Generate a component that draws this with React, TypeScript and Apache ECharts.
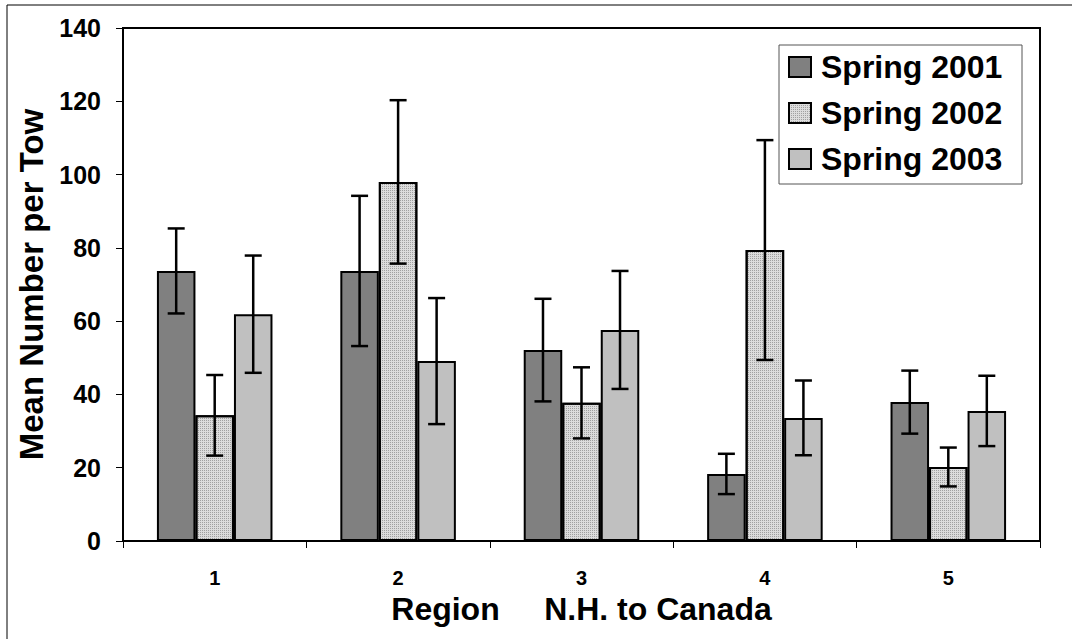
import React, { useEffect, useRef } from "react";
import * as echarts from "echarts";

const categories = ["1", "2", "3", "4", "5"];
const seriesNames = ["Spring 2001", "Spring 2002", "Spring 2003"];
const s2001 = [73.7, 73.7, 52.1, 18.3, 37.9];
const s2002 = [34.3, 98.0, 37.7, 79.4, 20.2];
const s2003 = [61.9, 49.1, 57.6, 33.6, 35.5];
const err2001 = [11.6, 20.5, 14.0, 5.5, 8.6];
const err2002 = [11.0, 22.3, 9.7, 30.0, 5.3];
const err2003 = [16.0, 17.2, 16.1, 10.2, 9.6];
const yTicks = [0, 20, 40, 60, 80, 100, 120, 140];

const colors = ["#808080", "#dcdcdc", "#c0c0c0"];
const CAT_GAP = 0.37;
const FONT = "'Liberation Sans', Arial, sans-serif";

export default function App() {
  const ref = useRef<HTMLDivElement>(null);
  useEffect(() => {
    if (!ref.current) return;
    const chart = echarts.init(ref.current, undefined, { renderer: "svg" });
    const values = [s2001, s2002, s2003];
    const errs = [err2001, err2002, err2003];

    const dotted = {
      symbol: "rect",
      symbolSize: 1,
      color: "rgba(110,110,110,0.55)",
      dashArrayX: [1, 1],
      dashArrayY: [1, 1],
      rotation: 0,
    };

    const barSeries = values.map((vals, si) => ({
      name: seriesNames[si],
      type: "bar",
      data: vals,
      barGap: "0%",
      barCategoryGap: CAT_GAP * 100 + "%",
      itemStyle: {
        color: colors[si],
        borderColor: "#000",
        borderWidth: 2,
        ...(si === 1 ? { decal: dotted } : {}),
      },
      z: 2,
    }));

    const errSeries = values.map((vals, si) => ({
      name: seriesNames[si] + " error",
      type: "custom",
      z: 5,
      silent: true,
      encode: { x: 0, y: [1, 2] },
      data: vals.map((v, i) => [i, v - errs[si][i], v + errs[si][i]]),
      renderItem: (params: any, api: any) => {
        const xi = api.value(0);
        const lowP = api.coord([xi, api.value(1)]);
        const highP = api.coord([xi, api.value(2)]);
        const band = api.size([1, 0])[0];
        const bw = (band * (1 - CAT_GAP)) / 3;
        const x = lowP[0] + (si - 1) * bw;
        const cap = 8.5;
        const st = { stroke: "#000", lineWidth: 2.5 };
        return {
          type: "group",
          children: [
            { type: "line", shape: { x1: x, y1: highP[1], x2: x, y2: lowP[1] }, style: st },
            { type: "line", shape: { x1: x - cap, y1: highP[1], x2: x + cap, y2: highP[1] }, style: st },
            { type: "line", shape: { x1: x - cap, y1: lowP[1], x2: x + cap, y2: lowP[1] }, style: st },
          ],
        };
      },
    }));

    chart.setOption({
      animation: false,
      backgroundColor: "#fff",
      textStyle: { fontFamily: FONT },
      grid: {
        left: 123,
        top: 28,
        right: 32,
        bottom: 98,
        show: true,
        borderColor: "#000",
        borderWidth: 2,
      },
      legend: {
        data: seriesNames,
        orient: "vertical",
        left: 788,
        top: 51,
        padding: 0,
        itemGap: 14,
        itemWidth: 22,
        itemHeight: 20,
        icon: "rect",
        selectedMode: false,
        textStyle: {
          fontFamily: FONT,
          fontWeight: "bold",
          fontSize: 32,
          lineHeight: 32,
          color: "#000",
          padding: [0, 0, 0, 5],
        },
      },
      xAxis: {
        type: "category",
        data: categories,
        name: "Region\u00a0\u00a0\u00a0\u00a0\u00a0N.H. to Canada",
        nameLocation: "middle",
        nameGap: 47,
        nameTextStyle: { fontFamily: FONT, fontWeight: "bold", fontSize: 32, color: "#000" },
        axisLine: { show: true, lineStyle: { color: "#000", width: 2 } },
        axisTick: { show: true, alignWithLabel: false, length: 7, lineStyle: { color: "#000", width: 1 } },
        axisLabel: { fontFamily: FONT, fontWeight: "bold", fontSize: 20, color: "#000", margin: 27 },
        splitLine: { show: false },
      },
      yAxis: {
        type: "value",
        min: yTicks[0],
        max: yTicks[yTicks.length - 1],
        interval: yTicks[1] - yTicks[0],
        name: "Mean Number per Tow",
        nameLocation: "middle",
        nameGap: 72,
        nameTextStyle: { fontFamily: FONT, fontWeight: "bold", fontSize: 33, color: "#000" },
        axisLine: { show: true, lineStyle: { color: "#000", width: 2 } },
        axisTick: { show: true, length: 7, lineStyle: { color: "#000", width: 1 } },
        axisLabel: { fontFamily: FONT, fontWeight: "bold", fontSize: 25, color: "#000", margin: 22 },
        splitLine: { show: false },
      },
      graphic: [
        {
          type: "rect",
          shape: { x: 7, y: 5, width: 1200, height: 800 },
          style: { fill: "none", stroke: "#000", lineWidth: 1 },
          silent: true,
          z: 0,
        },
        {
          type: "rect",
          shape: { x: 779, y: 45, width: 243, height: 139 },
          style: { fill: "#fff", stroke: "#555", lineWidth: 1 },
          silent: true,
          z: 1,
        },
      ],
      series: [...barSeries, ...errSeries],
    });
    return () => chart.dispose();
  }, []);
  return (
    <div
      ref={ref}
      style={{ position: "fixed", left: 0, top: 0, width: 1072, height: 639, background: "#fff" }}
    />
  );
}
